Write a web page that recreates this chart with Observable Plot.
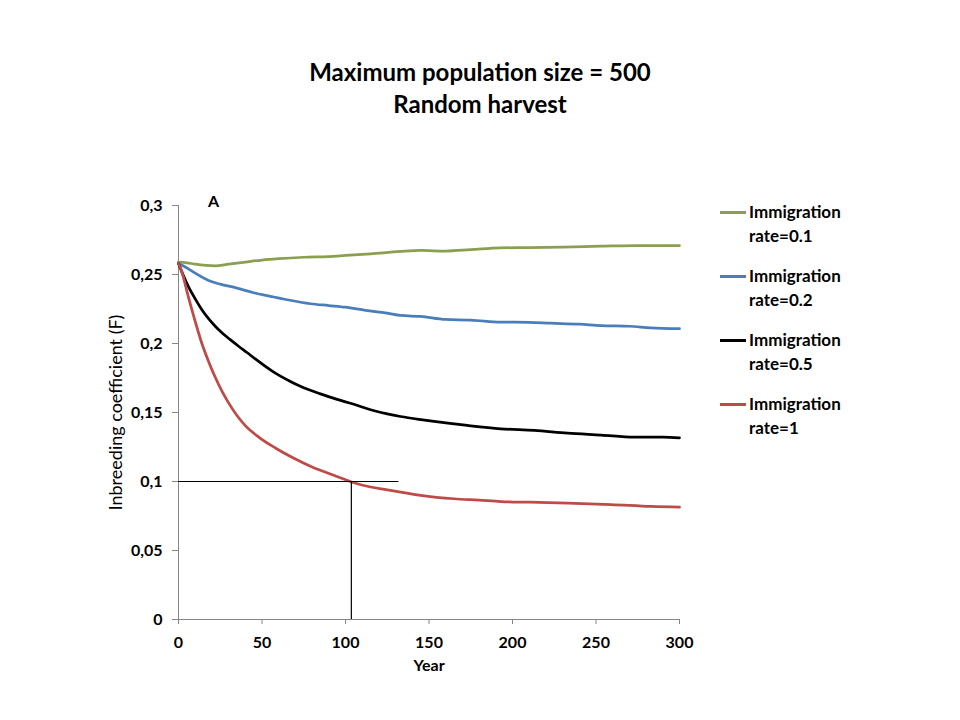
<!DOCTYPE html>
<html>
<head>
<meta charset="utf-8">
<script src="https://cdn.jsdelivr.net/npm/d3@7"></script>
<script src="https://cdn.jsdelivr.net/npm/@observablehq/plot@0.6"></script>
<style>
  html, body { margin: 0; padding: 0; background: #fff; }
  #wrap { position: relative; width: 960px; height: 720px; font-family: Lato, "Open Sans", sans-serif; color: #000; }
  #title { position: absolute; left: 0; width: 960px; top: 56px; text-align: center; font-weight: bold; font-size: 24px; line-height: 32px; }
  #panel { position: absolute; left: 208px; top: 191px; font-weight: bold; font-size: 16px; }
  #legend { position: absolute; left: 718px; top: 200px; font-weight: bold; font-size: 17px; line-height: 24px; }
  .item { position: relative; padding-left: 31px; height: 64px; }
  .swatch { position: absolute; left: 2px; top: 11px; width: 26px; height: 3px; }
  #chart { position: absolute; left: 0; top: 0; }
</style>
</head>
<body>
<div id="wrap">
  <div id="chart"></div>
  <div id="title"></div>
  <div id="panel"></div>
  <div id="legend"></div>
</div>
<script>
// ---- data ----
const titleLines = ["Maximum population size = 500", "Random harvest"];
const panelLabel = "A";
const xLabel = "Year";
const yLabel = "Inbreeding coefficient (F)";
const xTicks = [0, 50, 100, 150, 200, 250, 300];
const yTicks = [0, 0.05, 0.1, 0.15, 0.2, 0.25, 0.3];

const seriesNames = ["Immigration rate=0.1", "Immigration rate=0.2", "Immigration rate=0.5", "Immigration rate=1"];
const seriesColors = ["#8A9F50", "#4A7EBB", "#000000", "#BE4B48"];

const yearsRate01 = [0, 5, 10, 22, 30, 40, 50, 60, 75, 90, 100, 115, 133, 145, 160, 175, 193, 210, 230, 253, 275, 300];
const valuesRate01 = [0.259, 0.2585, 0.2575, 0.2563, 0.2575, 0.259, 0.2605, 0.2615, 0.2625, 0.263, 0.2638, 0.265, 0.2667, 0.2674, 0.267, 0.268, 0.2693, 0.2695, 0.2698, 0.2705, 0.271, 0.271];

const yearsRate02 = [0, 6, 10, 18, 25, 34, 45, 55, 65, 79, 90, 100, 112, 125, 133, 145, 160, 175, 193, 210, 223, 240, 253, 270, 283, 300];
const valuesRate02 = [0.258, 0.2541, 0.251, 0.2457, 0.243, 0.2405, 0.2368, 0.2342, 0.2317, 0.2288, 0.2275, 0.2263, 0.224, 0.222, 0.2203, 0.2196, 0.2174, 0.217, 0.2155, 0.2153, 0.2147, 0.214, 0.213, 0.2125, 0.2114, 0.2107];

const yearsRate05 = [0, 3, 6, 10, 14, 18, 22, 26, 31, 36, 41, 46, 51, 58, 67, 73, 85, 95, 105, 115, 125, 133, 144, 153, 173, 193, 213, 233, 253, 273, 290, 300];
const valuesRate05 = [0.258, 0.249, 0.241, 0.2324, 0.2245, 0.218, 0.2125, 0.2078, 0.2028, 0.198, 0.1935, 0.1888, 0.1843, 0.1785, 0.1725, 0.169, 0.1635, 0.1595, 0.156, 0.152, 0.149, 0.1471, 0.145, 0.1435, 0.1406, 0.1382, 0.137, 0.135, 0.1336, 0.1321, 0.1322, 0.1317];

const yearsRate1 = [0, 2, 5, 10, 14, 18, 22, 26, 30, 35, 40, 48, 58, 70, 80, 93, 104, 115, 125, 133, 145, 165, 180, 193, 210, 233, 259, 283, 300];
const valuesRate1 = [0.258, 0.252, 0.238, 0.216, 0.2, 0.187, 0.1755, 0.1655, 0.157, 0.1478, 0.1405, 0.1322, 0.1243, 0.1163, 0.1105, 0.1045, 0.0995, 0.096, 0.094, 0.0923, 0.09, 0.0875, 0.0865, 0.0855, 0.085, 0.0843, 0.0833, 0.0819, 0.0814];

// guide lines at F = 0.1
const guideH = {x1: 0, x2: 132, y: 0.1};
const guideV = {x: 103.5, y1: 0, y2: 0.1};

// ---- build table ----
const seriesYears = [yearsRate01, yearsRate02, yearsRate05, yearsRate1];
const seriesValues = [valuesRate01, valuesRate02, valuesRate05, valuesRate1];
const rows = [];
seriesNames.forEach((name, i) => {
  seriesYears[i].forEach((yr, j) => rows.push({series: name, year: yr, F: seriesValues[i][j]}));
});

const fmt = d => String(d).replace(".", ",");

const chart = Plot.plot({
  width: 960,
  height: 720,
  marginLeft: 178,
  marginRight: 281,
  marginTop: 205,
  marginBottom: 101,
  x: {domain: [0, 300]},
  y: {domain: [0, 0.3]},
  color: {domain: seriesNames, range: seriesColors},
  style: {fontFamily: "Lato, 'Open Sans', sans-serif", fontSize: "16px", fontWeight: "bold", color: "#000", background: "transparent"},
  marks: [
    Plot.axisX({ticks: xTicks, tickFormat: fmt, tickSize: 5, tickPadding: 12, stroke: "#868686", label: null}),
    Plot.axisY({ticks: yTicks, tickFormat: fmt, tickSize: 6, tickPadding: 10, stroke: "#868686", label: null}),
    Plot.ruleX([0], {stroke: "#868686", strokeWidth: 1}),
    Plot.ruleY([0], {stroke: "#868686", strokeWidth: 1}),
    Plot.text([yLabel], {text: d => d, frameAnchor: "left", textAnchor: "middle", rotate: -90, dx: -62, fontWeight: "normal", fontSize: 18}),
    Plot.text([xLabel], {text: d => d, frameAnchor: "bottom", dy: 51, fontWeight: "bold", fontSize: 16}),
    Plot.line(rows, {x: "year", y: "F", z: "series", stroke: "series", strokeWidth: 2.75, curve: "monotone-x"}),
    Plot.ruleY([guideH], {x1: "x1", x2: "x2", y: "y", stroke: "#000", strokeWidth: 1}),
    Plot.ruleX([guideV], {x: "x", y1: "y1", y2: "y2", stroke: "#000", strokeWidth: 1.2})
  ]
});
document.getElementById("chart").appendChild(chart);

document.getElementById("title").innerHTML = titleLines.map(t => `<div>${t}</div>`).join("");
document.getElementById("panel").textContent = panelLabel;
const legend = document.getElementById("legend");
seriesNames.forEach((name, i) => {
  const parts = name.split(" ");
  const item = document.createElement("div");
  item.className = "item";
  item.innerHTML = `<div class="swatch" style="background:${seriesColors[i]}"></div><div>${parts[0]}</div><div>${parts.slice(1).join(" ")}</div>`;
  legend.appendChild(item);
});
</script>
</body>
</html>
